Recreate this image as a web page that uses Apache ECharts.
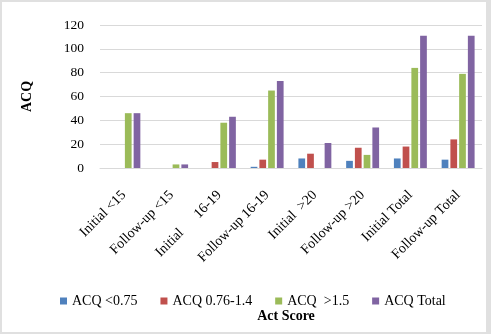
<!DOCTYPE html>
<html style="height: 100%">
   <head>
       <meta charset="utf-8">
   </head>
   <body style="height: 100%; margin: 0">
       <div id="container" style="width: 491px; height: 334px; box-sizing: border-box; border: 2px solid #e0e0e0; border-right-width: 5px"></div>
       <script type="text/javascript" src="https://cdn.jsdelivr.net/npm/echarts@6/dist/echarts.min.js"></script>
       <script type="text/javascript">
var categories = ['Initial <15', 'Follow-up <15', 'Initial      16-19', 'Follow-up 16-19',
                  'Initial  >20', 'Follow-up >20', 'Initial Total', 'Follow-up Total'];
var seriesNames = ['ACQ <0.75', 'ACQ 0.76-1.4', 'ACQ  >1.5', 'ACQ Total'];
var acqLow   = [0, 0, 0, 1, 8, 6, 8, 7];
var acqMid   = [0, 0, 5, 7, 12, 17, 18, 24];
var acqHigh  = [46, 3, 38, 65, 0, 11, 84, 79];
var acqTotal = [46, 3, 43, 73, 21, 34, 111, 111];
var colors = ['#4F81BD', '#C0504D', '#9BBB59', '#8064A2'];

var dom = document.getElementById("container");
var myChart = echarts.init(dom);
var font = '"Liberation Serif", "Times New Roman", serif';

function bar(name, data) {
    return {
        name: name,
        type: 'bar',
        data: data,
        barGap: '30%',
        barCategoryGap: '31%'
    };
}

var option = {
    color: colors,
    textStyle: { fontFamily: font },
    animation: false,
    legend: {
        top: 287,
        left: 53,
        itemWidth: 7,
        itemHeight: 7,
        itemGap: 23,
        icon: 'rect',
        textStyle: { fontFamily: font, fontSize: 14, color: '#000' },
        data: seriesNames
    },
    grid: { left: 98, right: 4, top: 23, bottom: 164 },
    xAxis: [{
        type: 'category',
        data: categories,
        name: 'Act Score',
        nameLocation: 'middle',
        nameGap: 141,
        nameTextStyle: { fontFamily: font, fontWeight: 'bold', fontSize: 14, color: '#000', padding: [0, 10, 0, 0] },
        axisLine: { lineStyle: { color: '#d9d9d9' } },
        axisTick: { show: false },
        axisLabel: { rotate: 45, interval: 0, fontFamily: font, fontSize: 14, color: '#000', margin: 25 }
    }],
    yAxis: [{
        type: 'value',
        min: 0,
        max: 120,
        interval: 20,
        name: 'ACQ',
        nameLocation: 'middle',
        nameGap: 66,
        nameTextStyle: { fontFamily: font, fontWeight: 'bold', fontSize: 14, color: '#000' },
        axisLine: { show: false },
        axisTick: { show: false },
        axisLabel: { fontFamily: font, fontSize: 13.5, color: '#000', margin: 16 },
        splitLine: { lineStyle: { color: '#d9d9d9' } }
    }],
    series: [
        bar(seriesNames[0], acqLow),
        bar(seriesNames[1], acqMid),
        bar(seriesNames[2], acqHigh),
        bar(seriesNames[3], acqTotal)
    ]
};

if (option && typeof option === "object") {
    myChart.setOption(option, true);
}
       </script>
   </body>
</html>
